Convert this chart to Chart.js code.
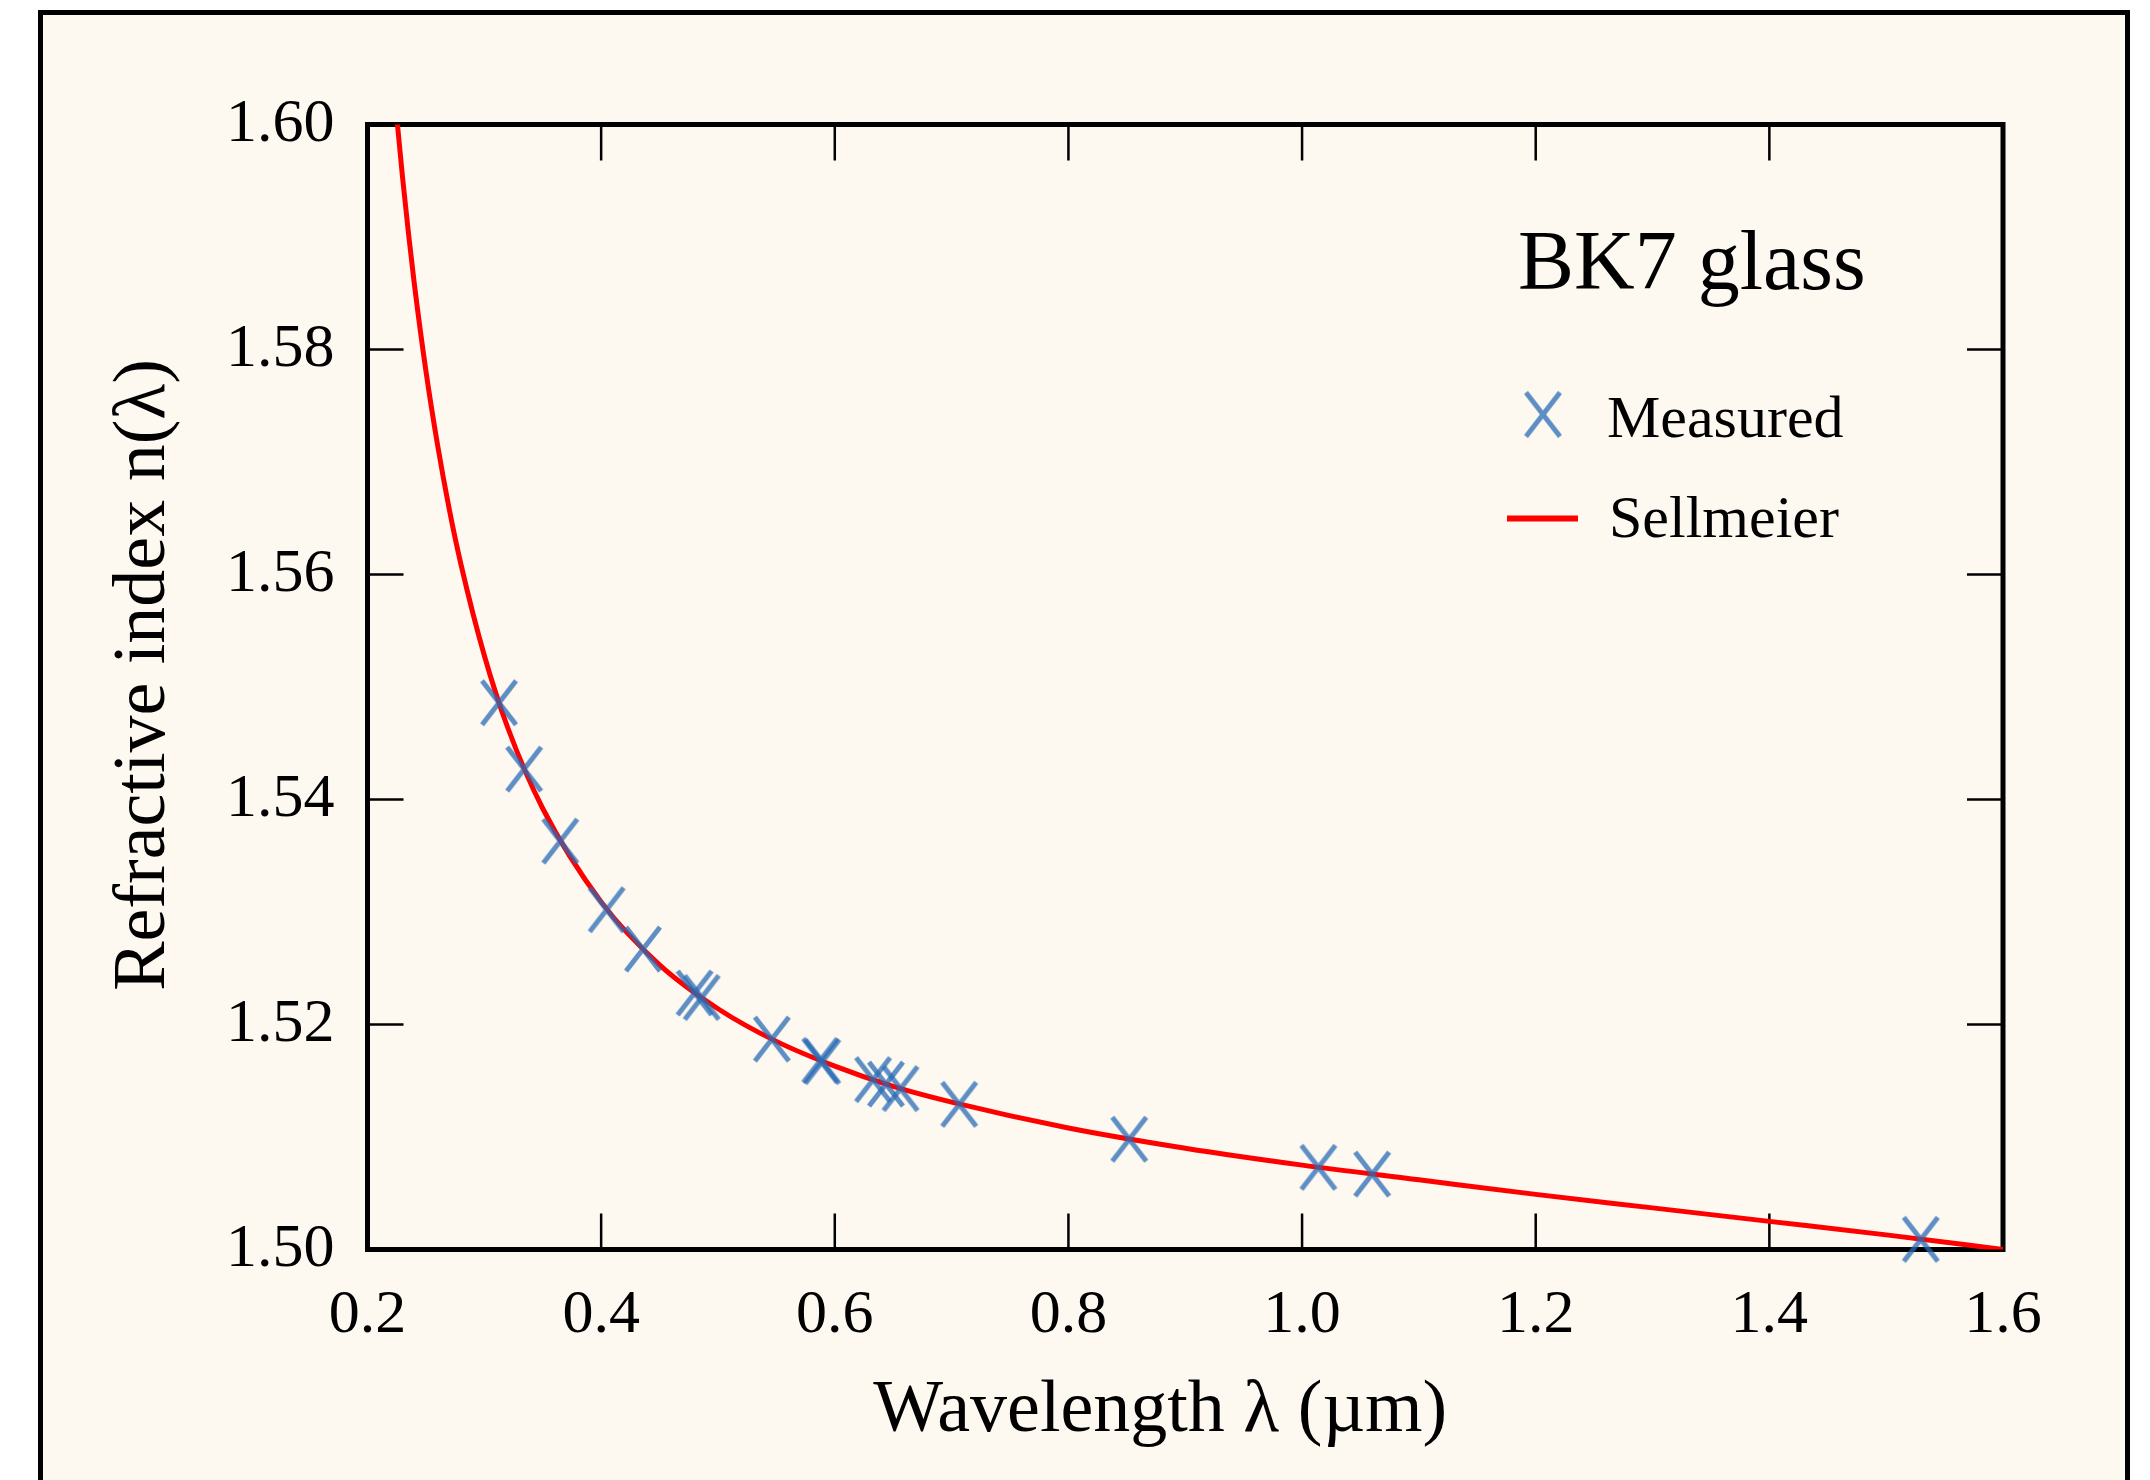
<!DOCTYPE html>
<html>
<head>
<meta charset="utf-8">
<title>BK7 glass - refractive index</title>
<script src="https://cdn.jsdelivr.net/npm/chart.js@4.4.1/dist/chart.umd.min.js"></script>
<style>
  html, body { margin: 0; padding: 0; background: #fff; }
  body { width: 2150px; height: 1480px; position: relative; overflow: hidden; }
  #frame {
    position: absolute; left: 38px; top: 10px; width: 2092px; height: 1600px;
    box-sizing: border-box; border: 5px solid #000; background: #fdf9f1;
  }
  #wrap { position: absolute; left: 0; top: 0; width: 2150px; height: 1480px; }
</style>
</head>
<body>
<div id="frame"></div>
<div id="wrap"><canvas id="chart"></canvas></div>
<script>
// ---- data ----
// measured points, wavelength in µm
const measLambda = [0.3126, 0.3341, 0.3650, 0.4047, 0.4358, 0.4800, 0.4861, 0.5461, 0.5876, 0.5893,
                    0.6328, 0.6438, 0.6563, 0.7065, 0.8521, 1.0140, 1.0600, 1.5296];
const measN      = [1.5486, 1.5427, 1.5363, 1.5302, 1.5267, 1.5228, 1.5224, 1.5187, 1.5168, 1.5167,
                    1.5151, 1.5147, 1.5143, 1.5129, 1.5098, 1.5073, 1.5067, 1.5009];

// Sellmeier fit curve, sampled along the red line
const sellLambda = [0.225, 0.230, 0.235, 0.240, 0.250, 0.260, 0.270, 0.280, 0.300, 0.320, 0.350, 0.400,
                    0.450, 0.500, 0.550, 0.600, 0.650, 0.700, 0.800, 0.900, 1.000, 1.100, 1.200, 1.300,
                    1.400, 1.500, 1.600];
const sellN      = [1.6007, 1.5953, 1.5904, 1.5859, 1.5781, 1.5715, 1.5658, 1.5609, 1.5528, 1.5464, 1.5392, 1.5309,
                    1.5253, 1.5214, 1.5185, 1.5163, 1.5145, 1.5131, 1.5108, 1.5090, 1.5075, 1.5062, 1.5049, 1.5037,
                    1.5025, 1.5013, 1.5000];

const xTicks = [0.2, 0.4, 0.6, 0.8, 1.0, 1.2, 1.4, 1.6];
const yTicks = [1.50, 1.52, 1.54, 1.56, 1.58, 1.60];

const legendTitle = 'BK7 glass';
const xTitle = 'Wavelength λ (µm)';
const yTitle = 'Refractive index n(λ)';

// ---- styling ----
const SERIF = '"Liberation Serif", "DejaVu Serif", serif';
const BLUE = 'rgba(40, 105, 180, 0.75)';
const RED = '#ff0000';

// the X marker is a bit taller than wide in the original
function makeCross(w, h, lw, color) {
  const c = document.createElement('canvas');
  c.width = w + lw * 2;
  c.height = h + lw * 2;
  const g = c.getContext('2d');
  g.strokeStyle = color;
  g.lineWidth = lw;
  g.beginPath();
  g.moveTo(lw, lw); g.lineTo(lw + w, lw + h);
  g.moveTo(lw + w, lw); g.lineTo(lw, lw + h);
  g.stroke();
  return c;
}
const crossImg = makeCross(34, 44, 5, BLUE);

// box + inward ticks on all four sides
const framePlugin = {
  id: 'frame',
  beforeDatasetsDraw(chart) {
    const { ctx, chartArea: a, scales } = chart;
    const tl = 36;
    ctx.save();
    ctx.strokeStyle = '#000';
    ctx.lineWidth = 2.5;
    ctx.beginPath();
    scales.x.ticks.forEach(t => {
      const px = scales.x.getPixelForValue(t.value);
      if (px <= a.left + 1 || px >= a.right - 1) return;
      ctx.moveTo(px, a.bottom); ctx.lineTo(px, a.bottom - tl);
      ctx.moveTo(px, a.top); ctx.lineTo(px, a.top + tl);
    });
    scales.y.ticks.forEach(t => {
      const py = scales.y.getPixelForValue(t.value);
      if (py <= a.top + 1 || py >= a.bottom - 1) return;
      ctx.moveTo(a.left, py); ctx.lineTo(a.left + tl, py);
      ctx.moveTo(a.right, py); ctx.lineTo(a.right - tl, py);
    });
    ctx.stroke();
    ctx.lineWidth = 5;
    ctx.strokeRect(a.left, a.top, a.right - a.left, a.bottom - a.top);
    ctx.restore();
  }
};

// axis titles: the original sits them a little off-centre, so place them by hand
const axisTitlePlugin = {
  id: 'axisTitles',
  afterDraw(chart) {
    const { ctx, chartArea: a } = chart;
    ctx.save();
    ctx.fillStyle = '#000';
    ctx.font = '74px ' + SERIF;
    ctx.textAlign = 'center';
    ctx.textBaseline = 'middle';
    ctx.fillText(xTitle, (a.left + a.right) / 2 - 25, a.bottom + 162);
    ctx.translate(a.left - 223, (a.top + a.bottom) / 2 - 12);
    ctx.rotate(-Math.PI / 2);
    ctx.fillText(yTitle, 0, 0);
    ctx.restore();
  }
};

// legend box in the upper right of the plot
const legendPlugin = {
  id: 'boxLegend',
  afterDraw(chart) {
    const { ctx, chartArea: a } = chart;
    const ds = chart.data.datasets;
    const x0 = a.right - 485;
    ctx.save();
    ctx.fillStyle = '#000';
    ctx.textBaseline = 'alphabetic';
    ctx.textAlign = 'left';
    ctx.font = '84px ' + SERIF;
    ctx.fillText(legendTitle, x0, a.top + 164);

    // Measured
    ctx.drawImage(crossImg, x0 + 25 - crossImg.width / 2, a.top + 290 - crossImg.height / 2);
    ctx.font = '60px ' + SERIF;
    ctx.fillText(ds[0].label, x0 + 89, a.top + 312);

    // Sellmeier
    ctx.strokeStyle = RED;
    ctx.lineWidth = 6;
    ctx.beginPath();
    ctx.moveTo(x0 - 11, a.top + 394);
    ctx.lineTo(x0 + 60, a.top + 394);
    ctx.stroke();
    ctx.fillText(ds[1].label, x0 + 91, a.top + 412);
    ctx.restore();
  }
};

const tickFont = { family: SERIF, size: 62 };

new Chart(document.getElementById('chart'), {
  type: 'scatter',
  data: {
    datasets: [
      {
        label: 'Measured',
        data: measLambda.map((x, i) => ({ x: x, y: measN[i] })),
        pointStyle: crossImg,
        pointRadius: 22,
        pointHoverRadius: 22,
        clip: false,
        order: 0
      },
      {
        type: 'line',
        label: 'Sellmeier',
        data: sellLambda.map((x, i) => ({ x: x, y: sellN[i] })),
        borderColor: RED,
        borderWidth: 5,
        pointRadius: 0,
        fill: false,
        cubicInterpolationMode: 'monotone',
        order: 1
      }
    ]
  },
  options: {
    responsive: true,
    maintainAspectRatio: false,
    animation: false,
    layout: { padding: { left: 0, top: 124.5, right: 147, bottom: 0 } },
    plugins: { legend: { display: false }, tooltip: { enabled: false } },
    scales: {
      x: {
        type: 'linear',
        min: 0.2, max: 1.6,
        afterBuildTicks: s => { s.ticks = xTicks.map(v => ({ value: v })); },
        afterFit: s => { s.height = 230.5; },
        grid: { display: false, drawTicks: false },
        border: { display: false },
        ticks: {
          padding: 29, color: '#000', font: tickFont,
          autoSkip: false, maxRotation: 0,
          callback: v => Number(v).toFixed(1)
        },
        title: { display: false }
      },
      y: {
        type: 'linear',
        min: 1.50, max: 1.60,
        afterBuildTicks: s => { s.ticks = yTicks.map(v => ({ value: v })); },
        afterFit: s => { s.width = 367.5; },
        grid: { display: false, drawTicks: false },
        border: { display: false },
        ticks: {
          padding: 33, color: '#000', font: tickFont,
          autoSkip: false,
          callback: v => Number(v).toFixed(2)
        },
        title: { display: false }
      }
    }
  },
  plugins: [framePlugin, axisTitlePlugin, legendPlugin]
});
</script>
</body>
</html>
